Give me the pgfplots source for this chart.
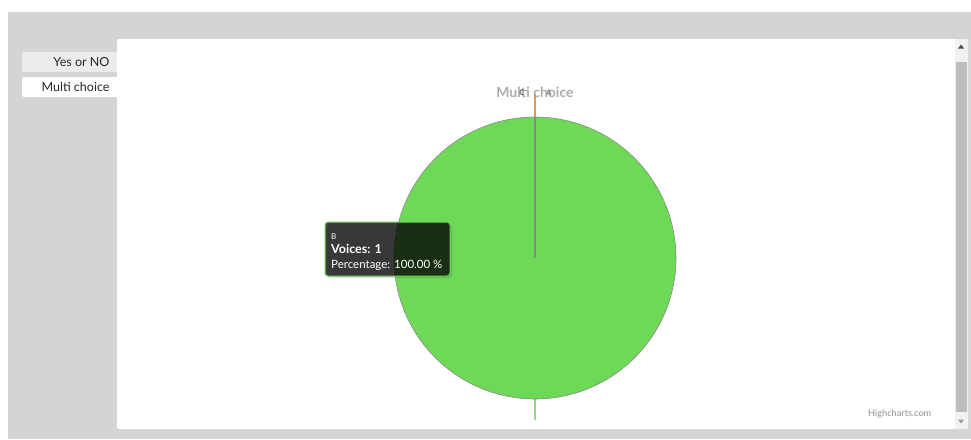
\documentclass[border=0pt]{standalone}
\usepackage{pgfplots}
\pgfplotsset{compat=1.18}
\usepackage{pgfplotstable}
\usepackage{fontspec}
\setmainfont{Lato}
\definecolor{bggray}{HTML}{D4D4D4}
\definecolor{tabgray}{HTML}{EBEBEB}
\definecolor{piegreen}{HTML}{6ED957}
\definecolor{piegray}{HTML}{888888}
\definecolor{titlegray}{HTML}{ADADAD}
\definecolor{trackgray}{HTML}{F1F1F1}
\definecolor{thumbgray}{HTML}{BDBDBD}
\definecolor{conorange}{HTML}{E8955A}
\definecolor{congreen}{HTML}{8FDC7D}
\definecolor{credgray}{HTML}{909090}
% pie data: label, voices
\pgfplotstableread{
label value
A 0
B 1
C 0
}\piedata
\begin{document}
\begin{tikzpicture}
\begin{axis}[scale only axis, width=971pt, height=439pt,
  xmin=0, xmax=971, ymin=0, ymax=439, y dir=reverse,
  axis lines=none, clip=false]
% page background
\fill[white] (axis cs:0,0) rectangle (axis cs:971,439);
\fill[bggray] (axis cs:8,12) rectangle (axis cs:971,439);
% tabs
\fill[tabgray, rounded corners=2pt] (axis cs:22,52) rectangle (axis cs:130,72);
\fill[white, rounded corners=2pt] (axis cs:22,77) rectangle (axis cs:130,97);
\node[anchor=base east, font=\fontsize{12.5}{14}\selectfont, text=black!85] at (axis cs:113,66) {Yes or NO};
\node[anchor=base east, font=\fontsize{12.5}{14}\selectfont, text=black!85] at (axis cs:113,91) {Multi choice};
% white panel
\fill[white, rounded corners=2pt] (axis cs:117,39) rectangle (axis cs:968,429);
% scrollbar
\fill[trackgray] (axis cs:955,39) rectangle (axis cs:968,429);
\fill[thumbgray] (axis cs:956,62) rectangle (axis cs:967,412);
\fill[black!70] (axis cs:958,48.5) -- (axis cs:964,48.5) -- (axis cs:961,44.5) -- cycle;
\fill[black!40] (axis cs:958,419.5) -- (axis cs:964,419.5) -- (axis cs:961,423.5) -- cycle;
% title
\node[anchor=base, font=\bfseries\fontsize{14}{16}\selectfont, text=titlegray] at (axis cs:535,97) {Multi choice};
% connectors
\addplot[color=conorange, line width=1.2pt, no marks] coordinates {(535,94) (535,117)};
\addplot[color=congreen, line width=1.2pt, no marks] coordinates {(535,399) (535,420)};
% pie: B = 1 of 1 voices -> full circle from 12 o'clock
\addplot[color=piegray, fill=piegreen, line width=0.6pt, no marks, domain=-90:270, samples=181, variable=\t]
  ({535+141*cos(t)}, {258+141*sin(t)});
% zero slices A and C border line
\addplot[color=piegray, line width=1.2pt, no marks] coordinates {(535,258) (535,117)};
% data labels
\node[anchor=base, font=\bfseries\fontsize{8}{9}\selectfont, text=black!60] at (axis cs:522,95) {C};
\node[anchor=base, font=\bfseries\fontsize{8}{9}\selectfont, text=black!50] at (axis cs:549,95) {A};
% tooltip
\fill[black, opacity=0.12, rounded corners=3pt] (axis cs:327,224) rectangle (axis cs:452,278);
\filldraw[fill=black, fill opacity=0.75, draw=piegreen, line width=1pt, rounded corners=3pt] (axis cs:325,222) rectangle (axis cs:450,276);
\node[anchor=base west, inner sep=0, font=\fontsize{8}{9}\selectfont, text=white] at (axis cs:331,239.5) {B};
\node[anchor=base west, inner sep=0, font=\bfseries\fontsize{12.5}{14}\selectfont, text=white] at (axis cs:331,253.5) {Voices: 1};
\node[anchor=base west, inner sep=0, font=\fontsize{11.5}{13}\selectfont, text=white] at (axis cs:331,268) {Percentage: 100.00 \%};
% credits
\node[anchor=base west, inner sep=0, font=\fontsize{9.2}{10}\selectfont, text=credgray] at (axis cs:868,416) {Highcharts.com};
\end{axis}
\end{tikzpicture}
\end{document}
